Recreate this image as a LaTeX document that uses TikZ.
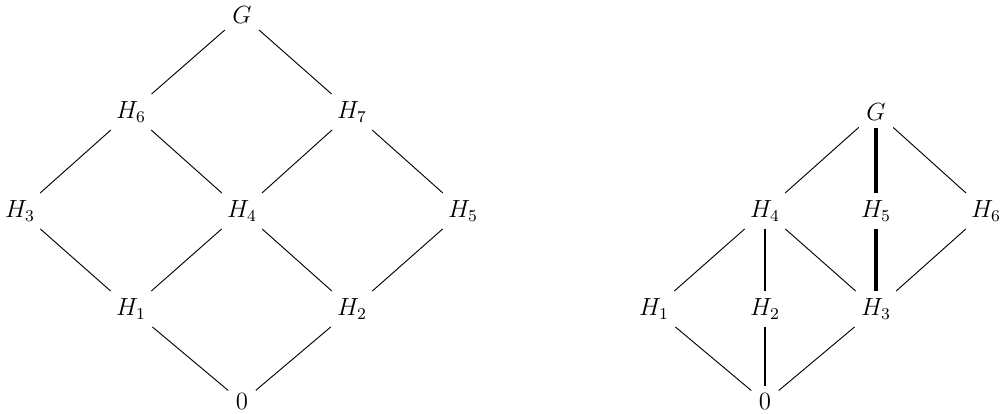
\documentclass[tikz,border=0pt]{standalone}
\begin{document}
\begin{tikzpicture}[x=0.017cm,y=-0.017cm,
  lat/.style={inner sep=3.5pt,font=\fontsize{11.5}{14}\selectfont},
  thin edge/.style={line width=0.45pt},
  bold edge/.style={line width=1.2pt},
  heavy edge/.style={line width=1.7pt}]
\useasboundingbox (0,0) rectangle (1000,414);
% left lattice
\node[lat] (LG) at (242,15) {$G$};
\node[lat] (L6) at (131,112) {$H_6$};
\node[lat] (L7) at (352,112) {$H_7$};
\node[lat] (L3) at (20,211) {$H_3$};
\node[lat] (L4) at (242,211) {$H_4$};
\node[lat] (L5) at (463,211) {$H_5$};
\node[lat] (L1) at (131,309) {$H_1$};
\node[lat] (L2) at (352,309) {$H_2$};
\node[lat] (L0) at (242,402) {$0$};
\draw[thin edge] (LG) -- (L6);
\draw[thin edge] (LG) -- (L7);
\draw[thin edge] (L6) -- (L3);
\draw[thin edge] (L6) -- (L4);
\draw[thin edge] (L7) -- (L4);
\draw[thin edge] (L7) -- (L5);
\draw[thin edge] (L3) -- (L1);
\draw[thin edge] (L4) -- (L1);
\draw[thin edge] (L4) -- (L2);
\draw[thin edge] (L5) -- (L2);
\draw[thin edge] (L1) -- (L0);
\draw[thin edge] (L2) -- (L0);
% right lattice
\node[lat] (RG) at (876,112) {$G$};
\node[lat] (R4) at (765,211) {$H_4$};
\node[lat] (R5) at (876,211) {$H_5$};
\node[lat] (R6) at (986,211) {$H_6$};
\node[lat] (R1) at (654,309) {$H_1$};
\node[lat] (R2) at (765,309) {$H_2$};
\node[lat] (R3) at (876,309) {$H_3$};
\node[lat] (R0) at (765,402) {$0$};
\draw[thin edge] (RG) -- (R4);
\draw[heavy edge] (RG) -- (R5);
\draw[thin edge] (RG) -- (R6);
\draw[thin edge] (R4) -- (R1);
\draw[bold edge] (R4) -- (R2);
\draw[thin edge] (R4) -- (R3);
\draw[heavy edge] (R5) -- (R3);
\draw[thin edge] (R6) -- (R3);
\draw[thin edge] (R1) -- (R0);
\draw[bold edge] (R2) -- (R0);
\draw[thin edge] (R3) -- (R0);
\end{tikzpicture}
\end{document}
